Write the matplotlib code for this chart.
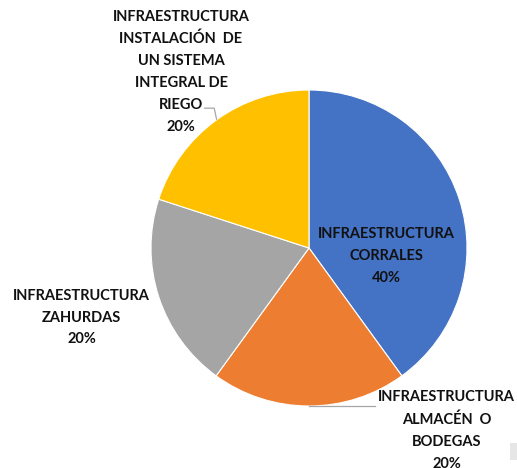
import matplotlib
matplotlib.use("Agg")
import matplotlib.pyplot as plt
from matplotlib.patches import Rectangle

# slice data, clockwise from 12 o'clock
labels = ["INFRAESTRUCTURA\nCORRALES",
          "INFRAESTRUCTURA\nALMACÉN  O\nBODEGAS",
          "INFRAESTRUCTURA\nZAHURDAS",
          "INFRAESTRUCTURA\nINSTALACIÓN  DE\nUN SISTEMA\nINTEGRAL DE\nRIEGO"]
values = [40, 20, 20, 20]
colors = ["#4472C4", "#ED7D31", "#A5A5A5", "#FFC000"]

# label centres in pie radius units
label_pos = [(0.49, -0.05), (0.87, -1.155), (-1.44, -0.44), (-0.81, 1.115)]

W, H = 517, 468
fig = plt.figure(figsize=(W / 100, H / 100), dpi=100)
cx, cy, r = 309, 248, 158
ax = fig.add_axes([(cx - r) / W, (H - cy - r) / H, 2 * r / W, 2 * r / H])

wedges, _ = ax.pie(values, colors=colors, startangle=90, counterclock=False,
                   radius=1, wedgeprops=dict(edgecolor="white", linewidth=0.8))
ax.set_xlim(-1, 1)
ax.set_ylim(-1, 1)
ax.set_aspect("equal")
ax.axis("off")

total = sum(values)
for lab, v, (x, y) in zip(labels, values, label_pos):
    ax.text(x, y, f"{lab}\n{round(100 * v / total)}%", ha="center", va="center",
            fontsize=10.5, fontweight="bold", family="Lato", color="#111111",
            linespacing=1.72, clip_on=False)

# leader lines
ax.plot([0.0, 0.42], [-1.0, -1.0], color="#a6a6a6", lw=0.9, clip_on=False)
ax.plot([-0.66, -0.6, -0.585], [0.885, 0.885, 0.815], color="#a6a6a6", lw=0.9,
        clip_on=False)

# small grey box at bottom right
fig.patches.append(Rectangle((510 / W, 8 / H), 7 / W, 17 / H, transform=fig.transFigure,
                             facecolor="#e6e6e6", edgecolor="none"))

fig.savefig("out.png", dpi=100)
